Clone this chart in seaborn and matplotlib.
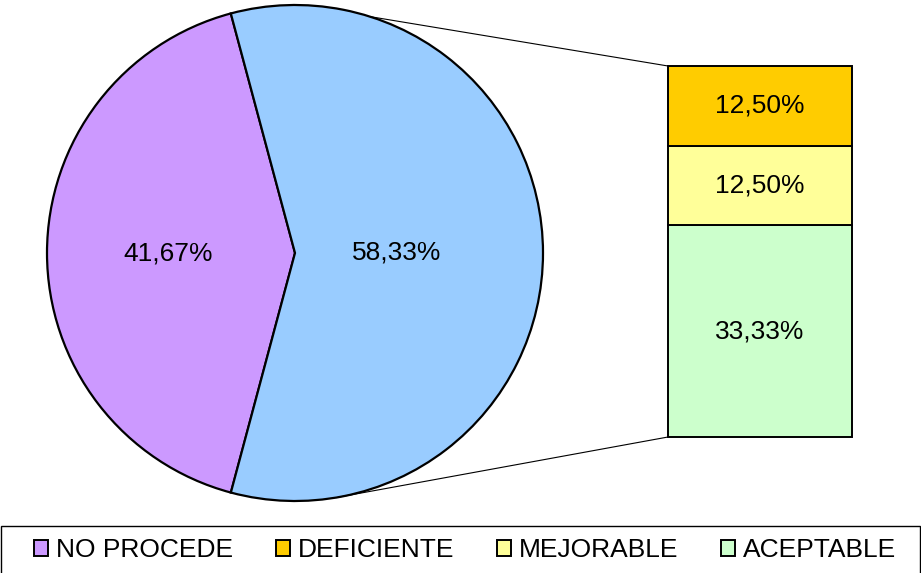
"""
Pie-of-bar chart: NO PROCEDE vs. the rest, with the rest broken down in a stacked bar.
"""
import matplotlib
matplotlib.use("Agg")
import matplotlib.pyplot as plt
from matplotlib.patches import Patch, Rectangle, ConnectionPatch
import numpy as np
import seaborn as sns

# data
pie_labels = ["NO PROCEDE", "OTROS"]
pie_values = [41.67, 58.33]
pie_colors = ["#CC99FF", "#99CCFF"]

bar_labels = ["ACEPTABLE", "MEJORABLE", "DEFICIENTE"]   # bottom -> top
bar_values = [33.33, 12.50, 12.50]
bar_colors = ["#CCFFCC", "#FFFF99", "#FFCC00"]

legend_order = ["NO PROCEDE", "DEFICIENTE", "MEJORABLE", "ACEPTABLE"]


def fmt_pct(v):
    return f"{v:.2f}%".replace(".", ",")


sns.set_style("white")
plt.rcParams["font.family"] = ["Liberation Sans", "DejaVu Sans"]
plt.rcParams["text.color"] = "black"
FS = 19

W, H = 921, 573
fig = plt.figure(figsize=(W / 100, H / 100), dpi=100)

# pie axes: data coords = pixels (y up)
ax = fig.add_axes([0, 0, 1, 1])
cx, cy, r = 295, H - 253, 248
wedges, _ = ax.pie(pie_values, colors=pie_colors, startangle=105,
                   counterclock=True, center=(cx, cy), radius=r,
                   wedgeprops=dict(edgecolor="black", linewidth=1.6),
                   frame=True)
ax.set_xlim(0, W)
ax.set_ylim(0, H)
ax.set_aspect("equal")
ax.set_axis_off()

# labels inside the wedges
label_dist = [0.51, 0.41]
for w, v, d in zip(wedges, pie_values, label_dist):
    ang = np.deg2rad((w.theta1 + w.theta2) / 2)
    ax.text(cx + d * r * np.cos(ang), cy + d * r * np.sin(ang), fmt_pct(v),
            ha="center", va="center", fontsize=FS, color="black")

# stacked bar
bx0, bx1, by0, by1 = 668, 852, 66, 437
bax = fig.add_axes([bx0 / W, (H - by1) / H, (bx1 - bx0) / W, (by1 - by0) / H])
bottom = 0
for lab, v, c in zip(bar_labels, bar_values, bar_colors):
    bax.bar(0, v, width=1, bottom=bottom, color=c, edgecolor="black",
            linewidth=1.4, clip_on=False)
    bax.text(0, bottom + v / 2, fmt_pct(v), ha="center", va="center",
             fontsize=FS, color="black")
    bottom += v
bax.set_xlim(-0.5, 0.5)
bax.set_ylim(0, sum(bar_values))
bax.set_axis_off()

# connector lines from pie edge to bar corners
for ang, ybar in [(72.4, sum(bar_values)), (-80.0, 0)]:
    a = np.deg2rad(ang)
    p = (cx + r * np.cos(a), cy + r * np.sin(a))
    con = ConnectionPatch(xyA=p, coordsA=ax.transData,
                          xyB=(-0.5, ybar), coordsB=bax.transData,
                          color="black", linewidth=0.8)
    fig.add_artist(con)

# legend box across the bottom
fig.add_artist(Rectangle((0.5 / W, -0.01), (W - 1.5) / W, (H - 526) / H + 0.01,
                         transform=fig.transFigure, facecolor="white",
                         edgecolor="black", linewidth=1.0))
color_map = dict(zip(pie_labels + bar_labels, pie_colors + bar_colors))
handles = [Patch(facecolor=color_map[l], edgecolor="black", linewidth=1.4)
           for l in legend_order]
fig.legend(handles, legend_order, loc="center", ncol=4,
           bbox_to_anchor=(0.505, (H - 550) / H), frameon=False,
           fontsize=FS, handlelength=0.55, handleheight=0.55,
           handletextpad=0.3, columnspacing=1.6, borderpad=0)

fig.savefig("out.png", dpi=100)
